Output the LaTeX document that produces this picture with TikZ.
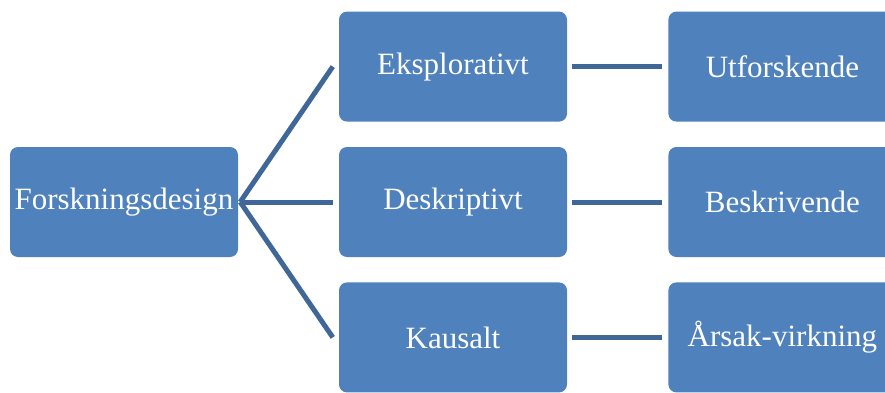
\documentclass[tikz,border=0pt]{standalone}
\usepackage{fontspec}
\setmainfont{Liberation Serif}
\usepackage{tikz}
\usetikzlibrary{positioning}
\definecolor{designFill}{HTML}{4F81BD}
\definecolor{designLine}{HTML}{3F6797}

\tikzset{
  designbox/.style={draw=none,fill=designFill,rounded corners=8pt,
    minimum width=228pt,minimum height=110pt,inner sep=0pt,
    text=white,font=\fontsize{31}{36}\selectfont},
  designlink/.style={designLine,line width=5pt}
}

\begin{document}
\begin{tikzpicture}
  \useasboundingbox (0,0) rectangle (885pt,392pt);
  \node[designbox] (root) at (124pt,190pt) {Forskningsdesign};
  \node[designbox] (desk) at (453pt,190pt) {Deskriptivt};
  \node[designbox,above=25pt of desk] (eksp) {Eksplorativt};
  \node[designbox,below=25pt of desk] (kaus) {Kausalt};
  \node[designbox,right=101pt of eksp] (utfo) {Utforskende};
  \node[designbox,right=101pt of desk] (besk) {Beskrivende};
  \node[designbox,right=101pt of kaus] (arsak) {Årsak-virkning};
  % lines from root to the three kinds
  \foreach \kind in {eksp,desk,kaus}
    \draw[designlink] ([xshift=2pt]root.east) -- ([xshift=-6pt]\kind.west);
  \draw[designlink] ([xshift=5pt]eksp.east) -- ([xshift=-6pt]utfo.west);
  \draw[designlink] ([xshift=5pt]desk.east) -- ([xshift=-6pt]besk.west);
  \draw[designlink] ([xshift=5pt]kaus.east) -- ([xshift=-6pt]arsak.west);
\end{tikzpicture}
\end{document}
